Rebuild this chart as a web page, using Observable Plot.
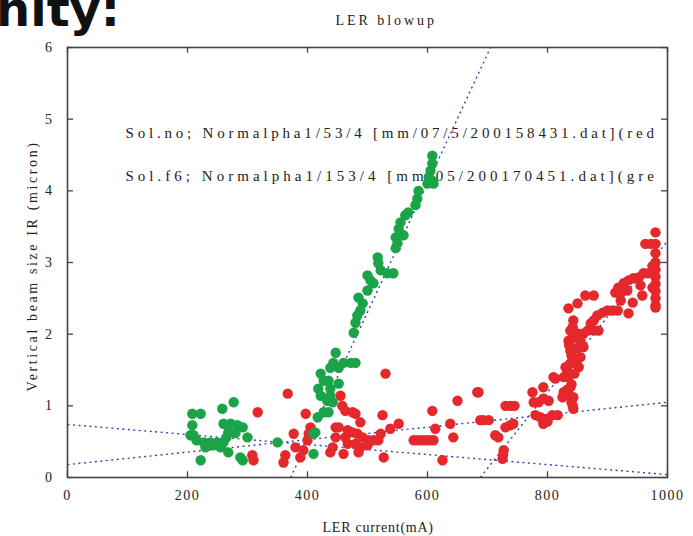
<!DOCTYPE html>
<html><head><meta charset="utf-8">
<script src="https://cdn.jsdelivr.net/npm/d3@7"></script>
<script src="https://cdn.jsdelivr.net/npm/@observablehq/plot@0.6"></script>
<style>
body{margin:0;background:#fff;width:693px;height:536px;overflow:hidden;position:relative}
#chart{position:absolute;left:0;top:0}
#head{position:absolute;left:-4px;top:-15px;font:bold 48px "DejaVu Sans",sans-serif;line-height:48px;color:#111;white-space:nowrap}
</style></head><body>
<div id="chart"></div><div id="head">nity:</div>
<script>
// ---- data ----
const titleText = "LER blowup";
const xLabelText = "LER current(mA)";
const yLabelText = "Vertical beam size IR (micron)";
const legendRed = "Sol.no; Normalpha1/53/4 [mm/07/5/200158431.dat](red";
const legendGreen = "Sol.f6; Normalpha1/153/4 [mm/05/200170451.dat](gre";

const xTicks = [0, 200, 400, 600, 800, 1000];
const yTicks = [0, 1, 2, 3, 4, 5, 6];

const greenX = [208,222,208,205,210,227,238,250,260,230,243,255,268,222,258,277,260,272,283,292,268,300,288,292,350,410,410,215,265,280,
  608,608,605,602,608,610,600,585,583,580,568,563,555,552,547,560,550,547,517,518,522,533,543,500,505,510,500,485,492,488,483,480,477,
  447,443,460,472,480,438,452,422,427,435,418,422,438,427,435,417,413,442,433,452,438];
const greenY = [0.89,0.89,0.73,0.59,0.59,0.49,0.49,0.49,0.49,0.42,0.45,0.42,0.35,0.24,0.96,1.05,0.75,0.75,0.73,0.70,0.63,0.56,0.28,0.24,0.49,0.61,0.33,0.52,0.56,0.62,
  4.49,4.38,4.28,4.19,4.14,4.10,4.10,4.00,3.89,3.80,3.70,3.66,3.56,3.47,3.35,3.38,3.27,3.20,3.07,2.99,2.89,2.85,2.85,2.82,2.75,2.71,2.61,2.51,2.43,2.33,2.26,2.16,2.02,
  1.74,1.60,1.60,1.60,1.60,1.53,1.53,1.45,1.35,1.35,1.24,1.14,1.14,0.91,0.91,0.84,0.63,1.05,1.07,1.31,1.24];

const redX = [317,308,310,367,397,455,458,463,475,480,488,525,552,538,447,452,467,475,483,492,502,510,518,522,480,488,500,463,467,442,438,460,485,527,405,402,400,377,380,393,388,363,360,608,650,683,613,638,643,577,583,590,597,603,610,625,447,530,
  685,688,693,702,713,718,727,725,726,730,738,745,730,738,743,775,777,785,793,802,793,813,780,788,800,808,817,793,800,825,827,832,842,843,838,835,833,838,843,848,838,835,843,855,860,838,877,885,
  843,850,855,860,855,852,830,827,843,840,835,810,840,845,840,847,836,842,
  863,877,850,835,867,872,877,883,892,900,908,917,913,918,922,927,933,935,943,952,960,955,958,942,935,922,
  980,963,972,980,980,980,980,980,980,980,980,980,980,975,975,968];
const redY = [0.91,0.31,0.24,1.17,0.89,1.14,1.00,0.93,0.91,0.89,0.77,0.87,0.75,0.68,0.70,0.70,0.66,0.63,0.61,0.56,0.52,0.52,0.52,0.61,0.47,0.42,0.45,0.56,0.47,0.42,0.35,0.33,0.35,0.28,0.70,0.61,0.52,0.61,0.42,0.38,0.28,0.31,0.21,0.93,1.07,1.19,0.68,0.75,0.56,0.52,0.52,0.52,0.52,0.52,0.52,0.24,0.56,1.45,
  1.19,0.80,0.80,0.80,0.59,0.56,0.38,0.26,0.32,1.00,1.00,1.00,0.70,0.73,0.75,1.19,1.05,1.05,1.10,1.07,1.26,1.38,0.87,0.84,0.82,0.87,0.87,0.75,0.78,1.12,1.19,1.22,1.00,1.12,1.26,1.40,1.49,1.59,1.63,1.61,1.77,1.91,1.95,1.87,2.01,2.05,2.05,2.05,
  2.19,2.01,1.91,1.82,1.68,1.54,1.54,1.40,0.96,1.05,1.15,1.40,1.30,1.45,1.70,1.80,1.85,2.10,
  2.54,2.54,2.43,2.36,2.05,2.15,2.19,2.26,2.30,2.33,2.33,2.33,2.58,2.65,2.58,2.71,2.61,2.75,2.78,2.79,2.85,2.68,2.54,2.44,2.29,2.47,
  3.42,3.26,3.26,3.26,3.13,3.00,2.90,2.80,2.70,2.60,2.50,2.40,2.37,2.95,2.65,2.85];

// dotted fit lines: endpoints
const fitX1 = [372, 688, 0, 0];
const fitY1 = [0, 0, 0.18, 0.74];
const fitX2 = [705, 1000, 1000, 1000];
const fitY2 = [6, 3.3, 1.05, 0.04];

const idx = n => d3.range(n);

const svg = Plot.plot({
  width: 693, height: 536,
  marginLeft: 67, marginRight: 26, marginTop: 47, marginBottom: 59,
  x: {domain: [0, 1000]},
  y: {domain: [0, 6]},
  style: {fontFamily: "'Liberation Serif', serif", fontSize: "14px", background: "#fff", color: "#222", letterSpacing: "1.5px"},
  marks: [
    Plot.text([legendRed], {frameAnchor: "top-left", dx: 58, dy: 86, textAnchor: "start", lineAnchor: "middle", fill: "#222", fontSize: 15, className: "legtxt"}),
    Plot.text([legendGreen], {frameAnchor: "top-left", dx: 58, dy: 129, textAnchor: "start", lineAnchor: "middle", fill: "#222", fontSize: 15, className: "legtxt"}),
    Plot.link(idx(fitX1.length), {x1: i => fitX1[i], y1: i => fitY1[i], x2: i => fitX2[i], y2: i => fitY2[i],
      stroke: "#3040b0", strokeWidth: 1.4, strokeDasharray: "2,3.5", clip: true}),
    Plot.dot(idx(redX.length), {x: i => redX[i], y: i => redY[i], r: 5.2, fill: "#e4282b"}),
    Plot.dot(idx(greenX.length), {x: i => greenX[i], y: i => greenY[i], r: 5.2, fill: "#1ba447"}),
    Plot.frame({stroke: "#444", strokeWidth: 1.6}),
    Plot.ruleX(xTicks, {y1: 0, y2: 0.08, stroke: "#444", strokeWidth: 1.3}),
    Plot.ruleX(xTicks, {y1: 5.92, y2: 6, stroke: "#444", strokeWidth: 1.3}),
    Plot.ruleY(yTicks, {x1: 0, x2: 10, stroke: "#444", strokeWidth: 1.3}),
    Plot.ruleY(yTicks, {x1: 990, x2: 1000, stroke: "#444", strokeWidth: 1.3}),
    Plot.axisX(xTicks, {tickSize: 0, tickPadding: 13, label: null, tickFormat: d => String(d)}),
    Plot.axisY(yTicks, {tickSize: 0, tickPadding: 14, label: null, tickFormat: d => String(d)}),
    Plot.text([titleText], {frameAnchor: "top-left", dx: 268, dy: -27, textAnchor: "start", lineAnchor: "middle", fill: "#222", className: "ttl"}),
    Plot.text([xLabelText], {frameAnchor: "bottom-left", dx: 255, dy: 50, textAnchor: "start", lineAnchor: "middle", fill: "#222", className: "xlab"}),
    Plot.text([yLabelText], {frameAnchor: "bottom-left", dx: -35, dy: -86, rotate: -90, textAnchor: "start", lineAnchor: "middle", fill: "#222", className: "ylab"})
  ]
});
document.getElementById("chart").appendChild(svg);

// stretch the typewriter-like texts to the widths seen in the reference
const setLen = (sel, len) => d3.select(svg).selectAll(sel).attr("textLength", len).attr("lengthAdjust", "spacing");
setLen(".legtxt text", 530);
setLen(".ttl text", 100);
setLen(".xlab text", 112);
setLen(".ylab text", 250);
</script>
</body></html>
